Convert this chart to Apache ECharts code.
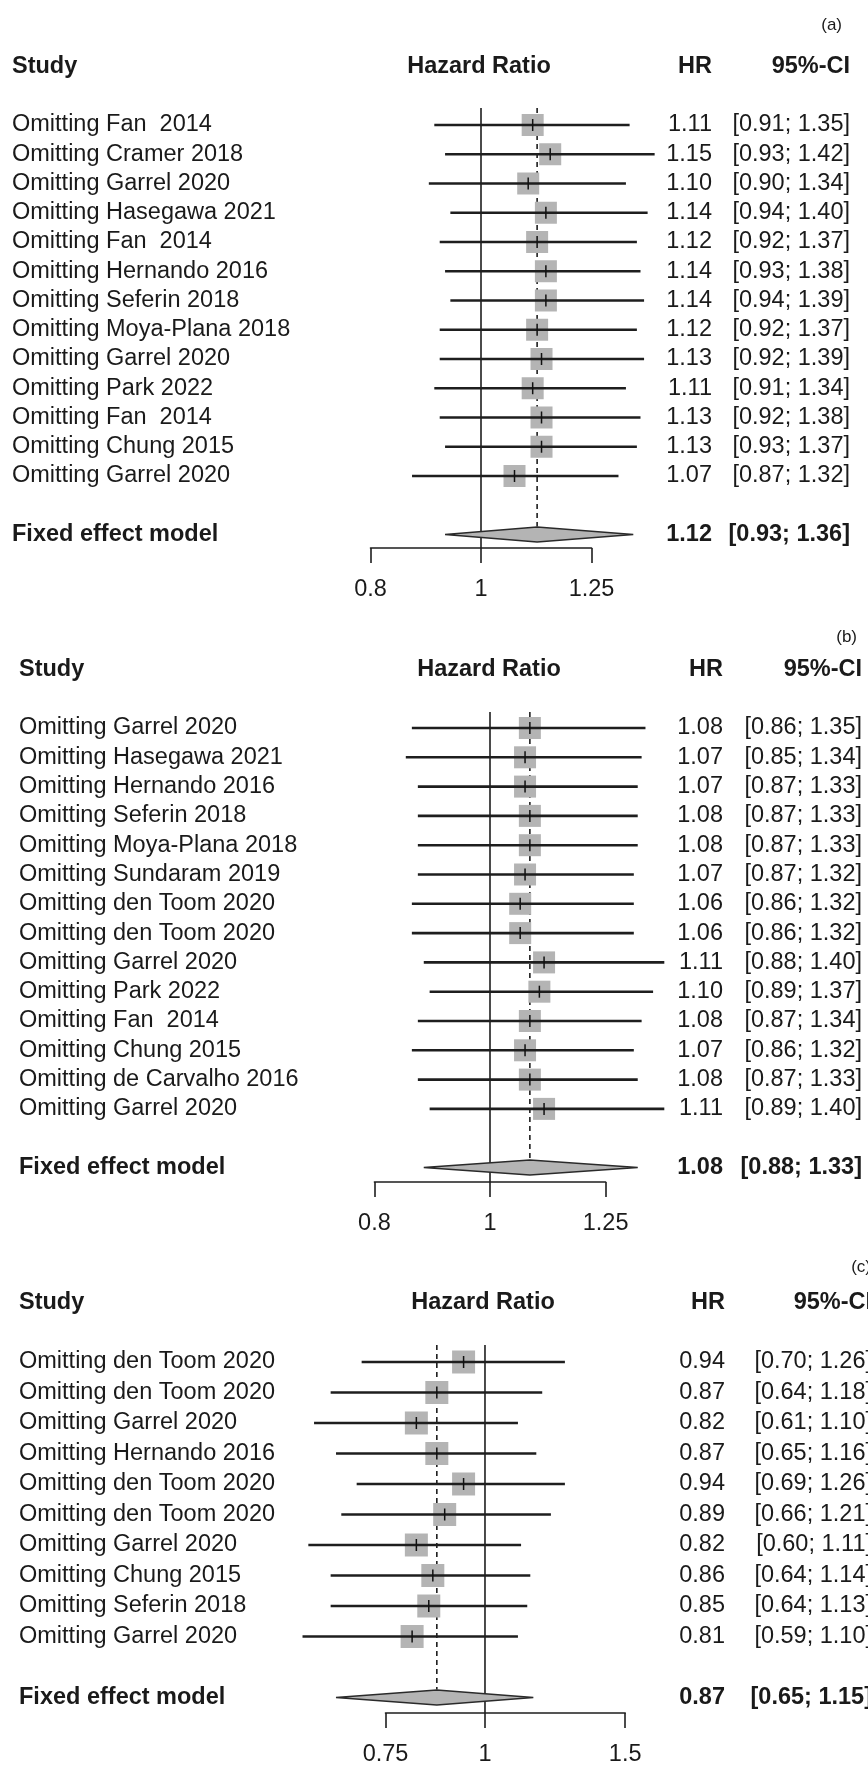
<!DOCTYPE html>
<html><head><meta charset="utf-8">
<script src="https://cdn.jsdelivr.net/npm/echarts@6/dist/echarts.min.js"></script>
<style>html,body{margin:0;padding:0;background:#fff}#c{width:868px;height:1771px}</style>
</head><body><div id="c"></div>
<script>
// ---------- Data ----------
const studiesA = ['Omitting Fan  2014','Omitting Cramer 2018','Omitting Garrel 2020','Omitting Hasegawa 2021','Omitting Fan  2014','Omitting Hernando 2016','Omitting Seferin 2018','Omitting Moya-Plana 2018','Omitting Garrel 2020','Omitting Park 2022','Omitting Fan  2014','Omitting Chung 2015','Omitting Garrel 2020'];
const hrA = [1.11,1.15,1.10,1.14,1.12,1.14,1.14,1.12,1.13,1.11,1.13,1.13,1.07];
const loA = [0.91,0.93,0.90,0.94,0.92,0.93,0.94,0.92,0.92,0.91,0.92,0.93,0.87];
const hiA = [1.35,1.42,1.34,1.40,1.37,1.38,1.39,1.37,1.39,1.34,1.38,1.37,1.32];
const pooledA = [1.12,0.93,1.36];
const ticksA = [0.8,1,1.25];
const tickLabelsA = ['0.8','1','1.25'];

const studiesB = ['Omitting Garrel 2020','Omitting Hasegawa 2021','Omitting Hernando 2016','Omitting Seferin 2018','Omitting Moya-Plana 2018','Omitting Sundaram 2019','Omitting den Toom 2020','Omitting den Toom 2020','Omitting Garrel 2020','Omitting Park 2022','Omitting Fan  2014','Omitting Chung 2015','Omitting de Carvalho 2016','Omitting Garrel 2020'];
const hrB = [1.08,1.07,1.07,1.08,1.08,1.07,1.06,1.06,1.11,1.10,1.08,1.07,1.08,1.11];
const loB = [0.86,0.85,0.87,0.87,0.87,0.87,0.86,0.86,0.88,0.89,0.87,0.86,0.87,0.89];
const hiB = [1.35,1.34,1.33,1.33,1.33,1.32,1.32,1.32,1.40,1.37,1.34,1.32,1.33,1.40];
const pooledB = [1.08,0.88,1.33];
const ticksB = [0.8,1,1.25];
const tickLabelsB = ['0.8','1','1.25'];

const studiesC = ['Omitting den Toom 2020','Omitting den Toom 2020','Omitting Garrel 2020','Omitting Hernando 2016','Omitting den Toom 2020','Omitting den Toom 2020','Omitting Garrel 2020','Omitting Chung 2015','Omitting Seferin 2018','Omitting Garrel 2020'];
const hrC = [0.94,0.87,0.82,0.87,0.94,0.89,0.82,0.86,0.85,0.81];
const loC = [0.70,0.64,0.61,0.65,0.69,0.66,0.60,0.64,0.64,0.59];
const hiC = [1.26,1.18,1.10,1.16,1.26,1.21,1.11,1.14,1.13,1.10];
const pooledC = [0.87,0.65,1.15];
const ticksC = [0.75,1,1.5];
const tickLabelsC = ['0.75','1','1.5'];

const pooledLabel = 'Fixed effect model';
const headers = ['Study','Hazard Ratio','HR','95%-CI'];

// ---------- Layout ----------
const FONT = '"Liberation Sans", Arial, Helvetica, sans-serif';
const FS = 23.5;
const TXT = '#1a1a1a';
const LINE = '#1e1e1e';
const SQ = '#b4b4b4';

const panels = [
  {tag:'(a)', studies:studiesA, hr:hrA, lo:loA, hi:hiA, pooled:pooledA, ticks:ticksA, tickLabels:tickLabelsA,
   grid:{left:370.5, width:221, top:108, height:440}, yMin:-0.581, yMax:14.462,
   textLeft:12, hazardX:479, hrRight:712, ciRight:850, headerY:67, tagX:842, tagY:25, sq:22},
  {tag:'(b)', studies:studiesB, hr:hrB, lo:loB, hi:hiB, pooled:pooledB, ticks:ticksB, tickLabels:tickLabelsB,
   grid:{left:374.4, width:231.2, top:712, height:470}, yMin:-0.546, yMax:15.495,
   textLeft:19, hazardX:489, hrRight:723, ciRight:862, headerY:670, tagX:857, tagY:637, sq:22},
  {tag:'(c)', studies:studiesC, hr:hrC, lo:loC, hi:hiC, pooled:pooledC, ticks:ticksC, tickLabels:tickLabelsC,
   grid:{left:385.5, width:239.7, top:1345, height:368}, yMin:-0.557, yMax:11.508,
   textLeft:19, hazardX:483, hrRight:725, ciRight:872, headerY:1303, tagX:871, tagY:1267, sq:23}
];

function txt(text, x, y, align, bold, size) {
  return {type:'text', silent:true, style:{text:text, x:x, y:y, align:align, textAlign:align,
    verticalAlign:'middle', textVerticalAlign:'middle', fontSize:size||FS, fontFamily:FONT,
    fontWeight:bold?'bold':'normal', fill:TXT}};
}
const f2 = v => v.toFixed(2);

const grids = [], xAxes = [], yAxes = [], series = [], graphics = [];

panels.forEach((p, k) => {
  const n = p.studies.length;
  const pooledRow = n + 1;
  grids.push(Object.assign({containLabel:false}, p.grid));
  const lnTicks = p.ticks.map(Math.log);
  xAxes.push({
    type:'value', gridIndex:k, position:'bottom', min:lnTicks[0], max:lnTicks[lnTicks.length-1],
    axisLine:{show:true, onZero:false, lineStyle:{color:LINE, width:1.6}},
    axisTick:{show:true, length:15, inside:false, customValues:lnTicks, lineStyle:{color:LINE, width:1.6}},
    axisLabel:{show:true, customValues:lnTicks, margin:30, fontSize:FS, fontFamily:FONT, color:TXT,
      formatter: v => { let bi=0, bd=1e9; lnTicks.forEach((t,i)=>{const d=Math.abs(t-v); if(d<bd){bd=d;bi=i;}}); return p.tickLabels[bi]; }},
    splitLine:{show:false}
  });
  yAxes.push({type:'value', gridIndex:k, inverse:true, min:p.yMin, max:p.yMax, show:false});

  // reference line at HR = 1
  series.push({
    type:'custom', xAxisIndex:k, yAxisIndex:k, clip:false, silent:true,
    data:[[0]],
    renderItem:(params, api) => {
      const a = api.coord([api.value(0), p.yMin]);
      const b = api.coord([api.value(0), p.yMax]);
      return {type:'line', shape:{x1:a[0], y1:a[1], x2:b[0], y2:b[1]}, style:{stroke:LINE, lineWidth:1.6}};
    }
  });

  // pooled dashed line
  series.push({
    type:'custom', xAxisIndex:k, yAxisIndex:k, clip:false, silent:true,
    data:[[Math.log(p.pooled[0]), pooledRow]],
    renderItem:(params, api) => {
      const a = api.coord([api.value(0), p.yMin]);
      const b = api.coord([api.value(0), api.value(1)]);
      return {type:'line', shape:{x1:a[0], y1:a[1], x2:b[0], y2:b[1]-8}, style:{stroke:LINE, lineWidth:1.6, lineDash:[5,4]}};
    }
  });

  // studies
  series.push({
    type:'custom', xAxisIndex:k, yAxisIndex:k, clip:false, silent:true,
    data: p.hr.map((v,i) => [Math.log(v), i, Math.log(p.lo[i]), Math.log(p.hi[i]), i]),
    renderItem:(params, api) => {
      const i = api.value(4);
      const e = api.coord([api.value(0), api.value(1)]);
      const l = api.coord([api.value(2), api.value(1)]);
      const h = api.coord([api.value(3), api.value(1)]);
      const y = e[1], s = p.sq;
      return {type:'group', children:[
        {type:'rect', shape:{x:e[0]-s/2, y:y-s/2, width:s, height:s}, style:{fill:SQ}},
        {type:'line', shape:{x1:l[0], y1:y, x2:h[0], y2:y}, style:{stroke:LINE, lineWidth:2.6}},
        {type:'line', shape:{x1:e[0], y1:y-6, x2:e[0], y2:y+6}, style:{stroke:'#111', lineWidth:1.5}},
        txt(p.studies[i], p.textLeft, y, 'left', false),
        txt(f2(p.hr[i]), p.hrRight, y, 'right', false),
        txt('[' + f2(p.lo[i]) + '; ' + f2(p.hi[i]) + ']', p.ciRight, y, 'right', false)
      ]};
    }
  });

  // pooled diamond
  series.push({
    type:'custom', xAxisIndex:k, yAxisIndex:k, clip:false, silent:true,
    data:[[Math.log(p.pooled[0]), pooledRow, Math.log(p.pooled[1]), Math.log(p.pooled[2])]],
    renderItem:(params, api) => {
      const e = api.coord([api.value(0), api.value(1)]);
      const l = api.coord([api.value(2), api.value(1)]);
      const h = api.coord([api.value(3), api.value(1)]);
      const y = e[1], hh = 7.5;
      return {type:'group', children:[
        {type:'polygon', shape:{points:[[l[0],y],[e[0],y-hh],[h[0],y],[e[0],y+hh]]},
         style:{fill:SQ, stroke:'#2a2a2a', lineWidth:1.6}},
        txt(pooledLabel, p.textLeft, y, 'left', true),
        txt(f2(p.pooled[0]), p.hrRight, y, 'right', true),
        txt('[' + f2(p.pooled[1]) + '; ' + f2(p.pooled[2]) + ']', p.ciRight, y, 'right', true)
      ]};
    }
  });

  // headers
  graphics.push(txt(p.tag, p.tagX, p.tagY, 'right', false, 17));
  graphics.push(txt(headers[0], p.textLeft, p.headerY, 'left', true));
  graphics.push(txt(headers[1], p.hazardX, p.headerY, 'center', true));
  graphics.push(txt(headers[2], p.hrRight, p.headerY, 'right', true));
  graphics.push(txt(headers[3], p.ciRight, p.headerY, 'right', true));
});

const chart = echarts.init(document.getElementById('c'), null, {renderer:'canvas'});
chart.setOption({
  animation:false,
  backgroundColor:'#ffffff',
  grid:grids, xAxis:xAxes, yAxis:yAxes, series:series,
  graphic:{elements:graphics}
});
</script>
</body></html>
